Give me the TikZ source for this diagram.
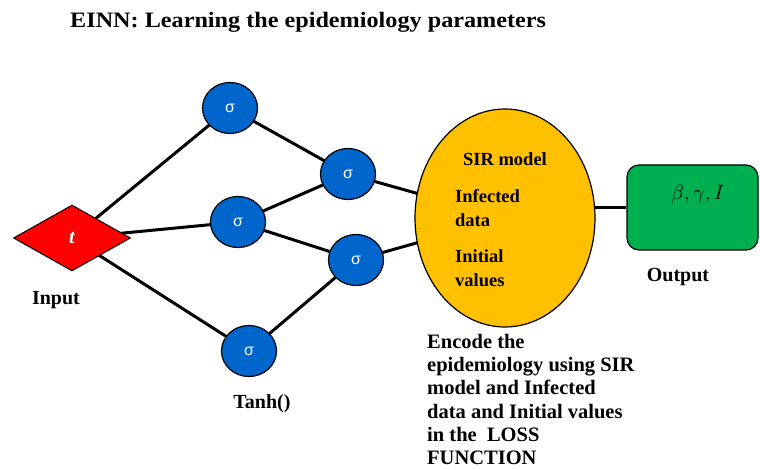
\documentclass[tikz,border=0pt]{standalone}
\usepackage{fontspec}
\setmainfont{Liberation Serif}
\newfontfamily\sigmafont{Liberation Sans}
\newfontfamily\titlefont{Liberation Serif}[FakeStretch=1.1]
\usetikzlibrary{shapes.geometric,backgrounds}
\definecolor{netred}{RGB}{255,0,0}
\definecolor{netblue}{RGB}{0,102,204}
\definecolor{lossgold}{RGB}{255,192,0}
\definecolor{outgreen}{RGB}{0,176,80}
\tikzset{
  neuron/.style={ellipse, draw=black, line width=1.2pt, fill=netblue,
    minimum width=55, minimum height=51, inner sep=0,
    text=white, font=\sigmafont\fontsize{16}{18}\selectfont},
  link/.style={line width=3pt, black},
  label/.style={inner sep=0, font=\bfseries\fontsize{20}{24}\selectfont},
  inlabel/.style={inner sep=0, font=\bfseries\fontsize{18.5}{22}\selectfont},
}
\begin{document}
\begin{tikzpicture}[x=1pt,y=-1pt]
\useasboundingbox (0,0) rectangle (760,470);

% title
\node[anchor=base west, inner sep=0, font=\titlefont\bfseries\fontsize{22}{26}\selectfont]
  (title) at (70,28) {EINN: Learning the epidemiology parameters};

% input
\node[diamond, draw=black, line width=1pt, fill=netred, minimum width=117,
  minimum height=66, inner sep=0, text=white,
  font=\bfseries\itshape\fontsize{20}{24}\selectfont] (input) at (72,238) {t};
\node[label, anchor=base] (inputlbl) at (56,305) {Input};

% hidden layers
\node[neuron] (h1) at (230,108) {σ};
\node[neuron] (h2) at (238,222) {σ};
\node[neuron] (h3) at (249,351) {σ};
\node[neuron] (h4) at (348,174) {σ};
\node[neuron] (h5) at (356,260) {σ};
\node[label, anchor=base] (tanhlbl) at (262,408) {Tanh()};

% loss ellipse
\node[ellipse, draw=black, line width=1.2pt, fill=lossgold,
  minimum width=180, minimum height=218, inner sep=0] (loss) at (505,218) {};
\node[inlabel, anchor=base] (sir) at (505,166) {SIR model};
\node[inlabel, anchor=base west] (inf1) at (455,203) {Infected};
\node[inlabel, anchor=base west] (inf2) at (455,227) {data};
\node[inlabel, anchor=base west] (ini1) at (455,263) {Initial};
\node[inlabel, anchor=base west] (ini2) at (455,287) {values};

\node[label, anchor=north west, align=left, font=\bfseries\fontsize{20.5}{23.2}\selectfont]
  (encode) at (427,334)
  {Encode the\\epidemiology using SIR\\model and Infected\\data and Initial values\\in the\ \ LOSS\\FUNCTION};

% output
\node[draw=black, line width=1.2pt, fill=outgreen, rounded corners=12,
  minimum width=131, minimum height=85, inner sep=0] (out) at (692.5,207.5) {};
\node[inner sep=0, font=\fontsize{22}{26}\selectfont] (params) at (698,194) {$\beta,\gamma,I$};
\node[label, anchor=base] (outlbl) at (678,282) {Output};

% connections
\begin{scope}[on background layer]
  \draw[link] (input.center) -- (h1.center);
  \draw[link] (input.center) -- (h2.center);
  \draw[link] (input.center) -- (h3.center);
  \draw[link] (h1.center) -- (h4.center);
  \draw[link] (h2.center) -- (h4.center);
  \draw[link] (h2.center) -- (h5.center);
  \draw[link] (h3.center) -- (h5.center);
  \draw[link] (h4.center) -- (loss.center);
  \draw[link] (h5.center) -- (loss.center);
  \draw[link] (out.west) -- (out.west -| loss.center);
\end{scope}
\end{tikzpicture}
\end{document}
